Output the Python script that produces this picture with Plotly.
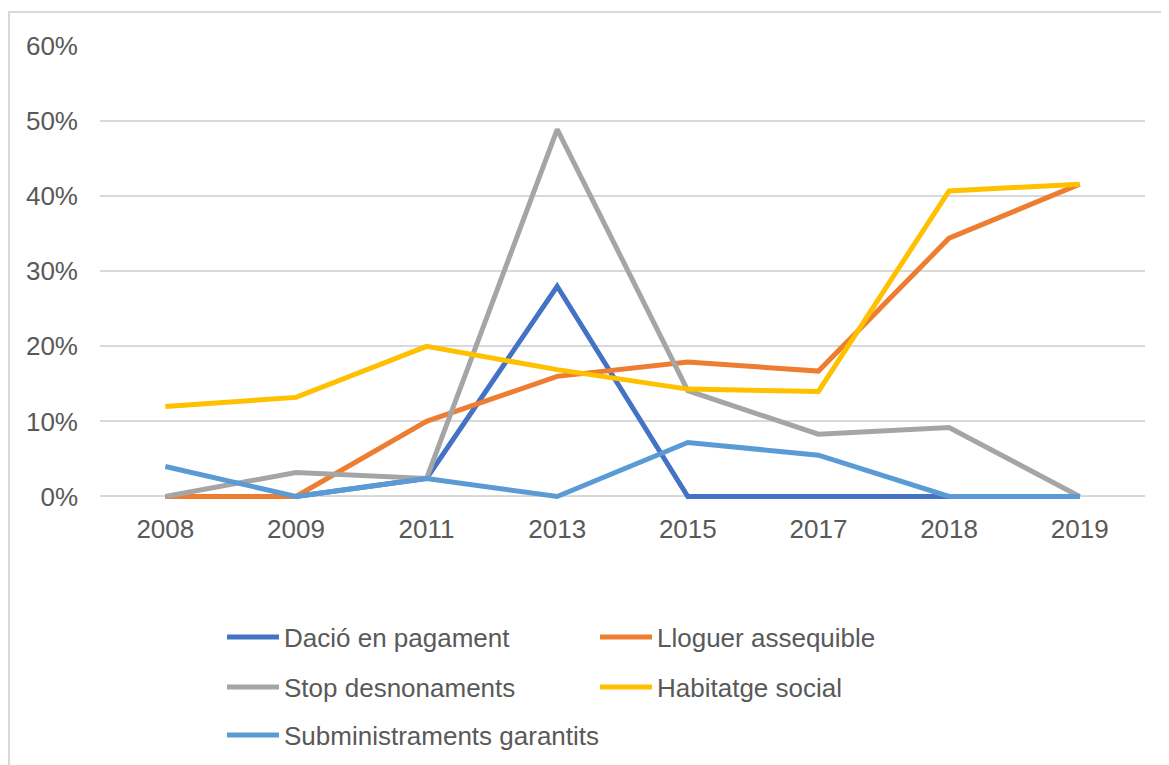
import plotly.graph_objects as go

years = ['2008', '2009', '2011', '2013', '2015', '2017', '2018', '2019']

dacio = [0.0, 0.0, 0.024, 0.28, 0.0, 0.0, 0.0, 0.0]
lloguer = [0.0, 0.0, 0.10, 0.16, 0.179, 0.167, 0.344, 0.416]
stop = [0.0, 0.032, 0.024, 0.489, 0.141, 0.083, 0.092, 0.0]
habitatge = [0.12, 0.132, 0.20, 0.169, 0.143, 0.14, 0.407, 0.416]
subministraments = [0.04, 0.0, 0.024, 0.0, 0.072, 0.055, 0.0, 0.0]

series = [
    ('Dació en pagament', dacio, '#4472C4', 'legend'),
    ('Lloguer assequible', lloguer, '#ED7D31', 'legend'),
    ('Stop desnonaments', stop, '#A5A5A5', 'legend2'),
    ('Habitatge social', habitatge, '#FFC000', 'legend2'),
    ('Subministraments garantits', subministraments, '#5B9BD5', 'legend3'),
]

fig = go.Figure()
for name, vals, color, leg in series:
    fig.add_trace(go.Scatter(
        x=years, y=vals, name=name, mode='lines',
        line=dict(color=color, width=5),
        legend=leg,
    ))

# figure is placed 8px in from the page corner (body margin)
W, H = 1161, 757
ml, mr, mt, mb = 92, 24, 38, 260.5
pw, ph = W - ml - mr, H - mt - mb

def px(x):
    return (x - ml) / pw

def py(y):
    return (H - mb - y) / ph

# light frame round the chart (top and left edges)
fig.add_shape(type='path', xref='paper', yref='paper',
              path=f'M {px(1)} {py(H + 10)} L {px(1)} {py(4)} L {px(W + 10)} {py(4)}',
              line=dict(color='#D9D9D9', width=2))

legend_font = dict(family='Liberation Sans, Arial, sans-serif', size=26, color='#595959')
leg_common = dict(orientation='h', xanchor='left', yanchor='middle',
                  xref='container', yref='container',
                  entrywidthmode='pixels', font=legend_font,
                  bgcolor='rgba(0,0,0,0)', itemwidth=52)

fig.update_layout(
    width=W, height=H,
    margin=dict(l=ml, r=mr, t=mt, b=mb),
    plot_bgcolor='white', paper_bgcolor='white',
    font=dict(family='Liberation Sans, Arial, sans-serif', color='#595959'),
    xaxis=dict(
        type='category', showgrid=False, showline=False, zeroline=False,
        tickfont=dict(size=26, color='#595959'), ticklabelstandoff=7,
        range=[-0.5, 7.5],
    ),
    yaxis=dict(
        range=[-0.01, 0.6], tick0=0, dtick=0.1, tickformat='.0%',
        showgrid=True, gridcolor='#D9D9D9', gridwidth=1.5,
        zeroline=False, showline=False,
        tickfont=dict(size=26, color='#595959'), ticklabelstandoff=21,
    ),
    legend=dict(leg_common, x=214 / W, y=1 - 629 / H, entrywidth=306),
    legend2=dict(leg_common, x=214 / W, y=1 - 679 / H, entrywidth=306),
    legend3=dict(leg_common, x=214 / W, y=1 - 727 / H, entrywidth=420),
)

fig.write_html('out.html')
